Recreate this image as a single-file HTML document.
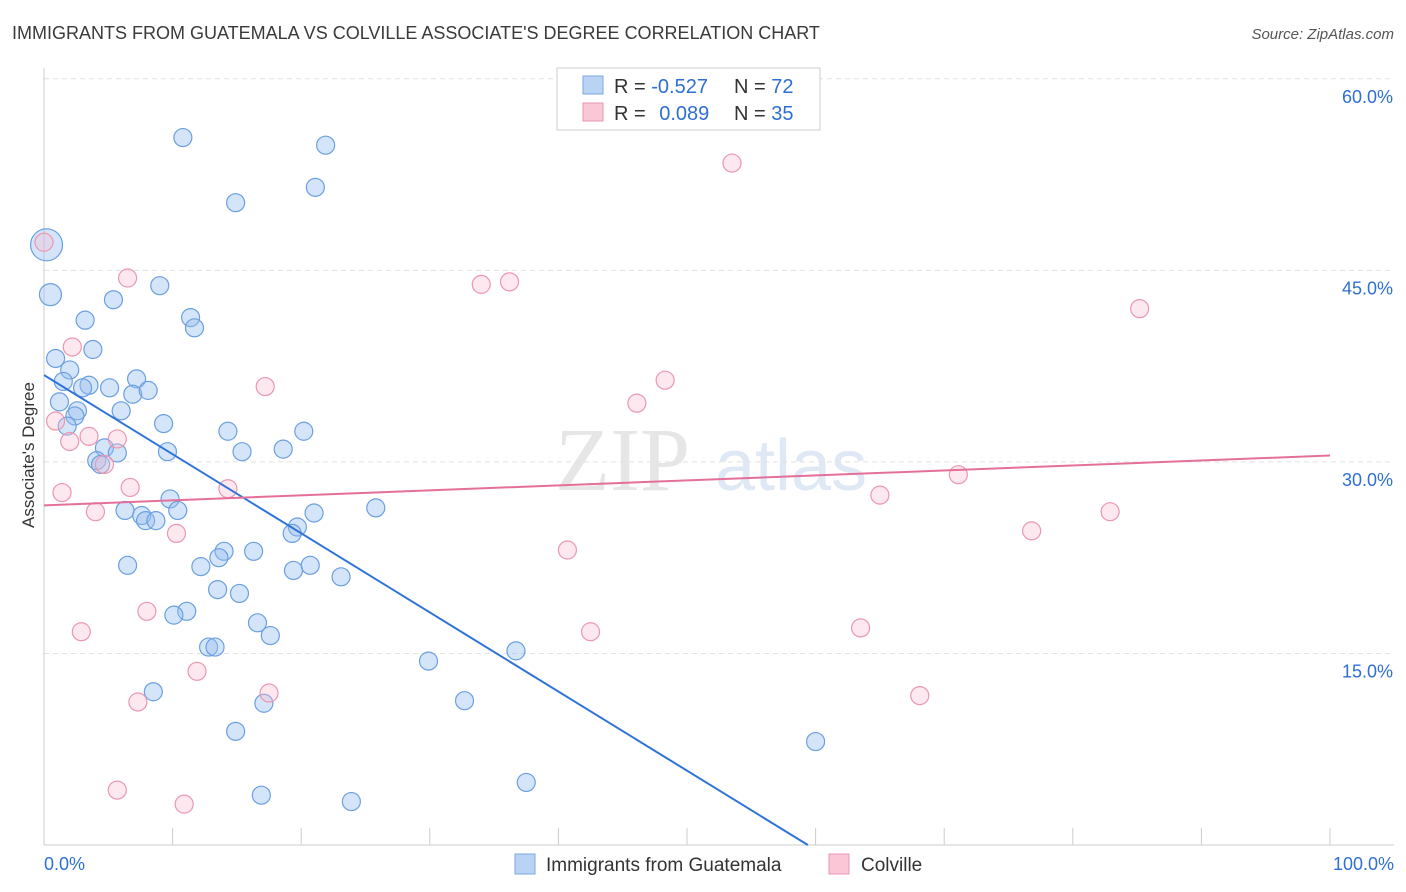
<!DOCTYPE html>
<html><head><meta charset="utf-8"><style>
body{margin:0;background:#fff;font-family:"Liberation Sans",sans-serif}
svg{display:block}
</style></head><body>
<svg id="chart" width="1406" height="892" xmlns="http://www.w3.org/2000/svg" font-family="Liberation Sans, sans-serif">
<text x="12" y="39" font-size="18" fill="#3a3a3a">IMMIGRANTS FROM GUATEMALA VS COLVILLE ASSOCIATE'S DEGREE CORRELATION CHART</text>
<text x="1394" y="39" font-size="15" fill="#555" text-anchor="end" font-style="italic">Source: ZipAtlas.com</text>
<text x="555" y="490" font-size="90" fill="#e6e6e6" font-family="Liberation Serif, serif">ZIP</text>
<text x="715" y="490" font-size="72" fill="#dfe8f5">atlas</text>
<g id="grid"></g>
<g id="axes"></g>
<g id="marks"></g>
<text transform="translate(34,455) rotate(-90)" font-size="17" fill="#333" text-anchor="middle">Associate's Degree</text>
<g>
<rect x="557" y="68" width="263" height="62" fill="#fff" stroke="#ccc"/>
<rect x="583" y="76" width="20" height="18" fill="#b9d3f5" stroke="#7aa7e3"/>
<rect x="583" y="103" width="20" height="18" fill="#f9c7d6" stroke="#eb97b1"/>
<text x="614" y="93" font-size="20" fill="#333">R = <tspan fill="#2e6fd3">-0.527</tspan></text>
<text x="734" y="93" font-size="20" fill="#333">N = <tspan fill="#2e6fd3">72</tspan></text>
<text x="614" y="120" font-size="20" fill="#333">R = <tspan fill="#2e6fd3" dx="8">0.089</tspan></text>
<text x="734" y="120" font-size="20" fill="#333">N = <tspan fill="#2e6fd3">35</tspan></text>
</g>
<g>
<rect x="515" y="854" width="20" height="20" fill="#b9d3f5" stroke="#7aa7e3"/>
<text x="546" y="871" font-size="19" fill="#333">Immigrants from Guatemala</text>
<rect x="829" y="854" width="20" height="20" fill="#f9c7d6" stroke="#eb97b1"/>
<text x="861" y="871" font-size="19" fill="#333">Colville</text>
</g>
</svg>
<script>
const blueX=[10.8,21.9,21.1,14.9,0.2,0.5,5.4,9.0,3.2,11.4,11.7,3.8,0.9,2.0,1.5,3.5,3.0,7.2,5.1,6.9,8.1,1.2,2.6,2.4,6.0,1.8,9.3,14.3,20.2,9.6,15.4,18.6,4.7,5.7,4.1,4.4,9.8,7.6,10.4,7.9,8.7,19.7,21.0,25.8,6.3,19.3,14.0,13.6,16.3,6.5,12.2,20.7,19.4,23.1,13.5,15.2,11.1,10.1,16.6,17.6,12.8,13.3,29.9,36.7,8.5,17.1,32.7,14.9,60.0,37.5,16.9,23.9];
const blueY=[55.4,54.8,51.5,50.3,47.0,43.1,42.7,43.8,41.1,41.3,40.5,38.8,38.1,37.2,36.3,36.0,35.8,36.5,35.8,35.3,35.6,34.7,34.0,33.6,34.0,32.8,33.0,32.4,32.4,30.8,30.8,31.0,31.1,30.7,30.1,29.8,27.1,25.8,26.2,25.4,25.4,24.9,26.0,26.4,26.2,24.4,23.0,22.5,23.0,21.9,21.8,21.9,21.5,21.0,20.0,19.7,18.3,18.0,17.4,16.4,15.5,15.5,14.4,15.2,12.0,11.1,11.3,8.9,8.1,4.9,3.9,3.4];
const pinkX=[53.5,6.5,34.0,36.2,85.2,0.0,2.2,17.2,48.3,46.1,0.9,2.0,3.5,5.7,4.7,6.7,14.3,1.4,4.0,10.3,65.0,71.1,82.9,76.8,40.7,8.0,2.9,42.5,63.5,11.9,17.5,7.3,68.1,5.7,10.9];
const pinkY=[53.4,44.4,43.9,44.1,42.0,47.2,39.0,35.9,36.4,34.6,33.2,31.6,32.0,31.8,29.8,28.0,27.9,27.6,26.1,24.4,27.4,29.0,26.1,24.6,23.1,18.3,16.7,16.7,17.0,13.6,11.9,11.2,11.7,4.3,3.2];
const xTicks=[0,10,20,30,40,50,60,70,80,90,100];
const yTicks=[15,30,45,60];
const yTickLabels=["15.0%","30.0%","45.0%","60.0%"];
const blueTrend=[[0,36.8],[59.4,0]];
const pinkTrend=[[0,26.6],[100,30.5]];
const X=v=>44+v*12.86, Y=v=>845-v*12.77;
const NS="http://www.w3.org/2000/svg";
function mk(t,a,p){const e=document.createElementNS(NS,t);for(const k in a)e.setAttribute(k,a[k]);p.appendChild(e);return e;}
const grid=document.getElementById('grid'),axes=document.getElementById('axes'),marks=document.getElementById('marks');
yTicks.forEach((v,i)=>{
 const l=mk('line',{x1:44,x2:1394,y1:Y(v),y2:Y(v),stroke:'#e2e2e2','stroke-dasharray':'5,4'},grid);
 
 
 const t=mk('text',{x:1393,y:Y(v)+24,'font-size':18,fill:'#2e6fd3','text-anchor':'end'},axes);
 t.textContent=yTickLabels[i];
 
 
});
const ax=mk('line',{x1:44,x2:44,y1:68,y2:845,stroke:'#ccc'},axes);


const bx=mk('line',{x1:44,x2:1394,y1:845,y2:845,stroke:'#ccc'},axes);


xTicks.forEach(v=>{
 const l=mk('line',{x1:X(v),x2:X(v),y1:828,y2:845,stroke:'#ccc'},axes);
 
 
});
[[0,'0.0%','start',44],[100,'100.0%','end',1394]].forEach(d=>{
 const t=mk('text',{x:d[3],y:870,'font-size':18,fill:'#2e6fd3','text-anchor':d[2]},axes);
 t.textContent=d[1];
 
 
});
blueX.forEach((v,i)=>{
 const r=i==4?16:(i==5?11:9);
 const c=mk('circle',{cx:X(v),cy:Y(blueY[i]),r:r,fill:'rgba(150,190,240,0.4)',stroke:'#6a9fe0','stroke-width':1.2},marks);
 
 
});
pinkX.forEach((v,i)=>{
 const c=mk('circle',{cx:X(v),cy:Y(pinkY[i]),r:9,fill:'rgba(248,190,210,0.35)',stroke:'#eb97b1','stroke-width':1.2},marks);
 
 
});
const bl=mk('line',{x1:X(blueTrend[0][0]),y1:Y(blueTrend[0][1]),x2:X(blueTrend[1][0]),y2:Y(blueTrend[1][1]),stroke:'#2e73d6','stroke-width':2},marks);


const pl=mk('line',{x1:X(pinkTrend[0][0]),y1:Y(pinkTrend[0][1]),x2:X(pinkTrend[1][0]),y2:Y(pinkTrend[1][1]),stroke:'#e4709a','stroke-width':2},marks);


</script>
</body></html>
